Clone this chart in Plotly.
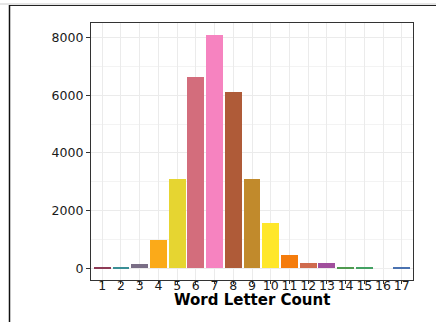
import plotly.graph_objects as go

letters = list(range(1, 18))
tick_labels = [str(i) for i in letters]
counts = [15, 40, 140, 980, 3080, 6640, 8100, 6120, 3110, 1560, 450, 175, 180, 45, 35, 8, 35]
colors = ["#8E3A55", "#3A8F96", "#7A6E86", "#FBAA19", "#E6D531", "#D36D7C", "#F683C0",
          "#AF5B38", "#C18A2C", "#FFE72A", "#F57C0C", "#CF6B4E", "#A04F9C", "#4F9A4F",
          "#43A163", "#EEEEEE", "#4A72B0"]
x_title = "Word Letter Count"

W, H = 436, 322
L, R, T, B = 91, 23, 23, 42

fig = go.Figure()
fig.add_trace(go.Bar(x=letters, y=counts, marker=dict(color=colors, line=dict(width=0)),
                     width=0.9, showlegend=False))

pw = W - L - R
ph = H - T - B
def px_x(p):
    return (p - L) / pw
def px_y(p):
    return 1 - (p - T) / ph

FONT = "DejaVu Sans, Liberation Sans, Arial, sans-serif"

fig.update_layout(
    width=W, height=H,
    margin=dict(l=L, r=R, t=T, b=B, pad=0, autoexpand=False),
    paper_bgcolor="white", plot_bgcolor="white",
    font=dict(family=FONT, color="#1a1a1a"),
    bargap=0,
    xaxis=dict(range=[0.4, 17.6], tickmode="array", tickvals=letters, ticktext=tick_labels,
               showgrid=True, gridcolor="#EBEBEB", gridwidth=1.1, automargin=False,
               ticks="outside", ticklen=3, tickcolor="#333333", tickwidth=1,
               ticklabelstandoff=-9,
               tickfont=dict(size=12.5, color="#1a1a1a"),
               showline=True, linecolor="#333333", linewidth=1.2, mirror=True, zeroline=False),
    yaxis=dict(range=[-405, 8505], tickvals=[0, 2000, 4000, 6000, 8000],
               showgrid=True, gridcolor="#EBEBEB", gridwidth=1.1, automargin=False,
               minor=dict(tickvals=[1000, 3000, 5000, 7000], showgrid=True, gridcolor="#F3F3F3", gridwidth=0.6, ticks=""),
               ticks="outside", ticklen=4, tickcolor="#333333", tickwidth=1,
               tickfont=dict(size=12.5, color="#1a1a1a"),
               showline=True, linecolor="#333333", linewidth=1.2, mirror=True, zeroline=False),
    annotations=[dict(text="<b>" + x_title + "</b>", xref="paper", yref="paper",
                      x=px_x(251.5), y=px_y(299.5), xanchor="center", yanchor="middle",
                      showarrow=False, font=dict(family=FONT, size=15, color="black"))],
    shapes=[
        dict(type="line", xref="paper", yref="paper", x0=px_x(0), x1=px_x(436), y0=px_y(4), y1=px_y(4),
             line=dict(color="#DDDDDD", width=1.5)),
        dict(type="line", xref="paper", yref="paper", x0=px_x(9), x1=px_x(436), y0=px_y(5.5), y1=px_y(5.5),
             line=dict(color="#222222", width=1.2)),
        dict(type="line", xref="paper", yref="paper", x0=px_x(9.5), x1=px_x(9.5), y0=px_y(5), y1=px_y(322),
             line=dict(color="#111111", width=1.5)),
    ],
)

fig.write_html("out.html", config={"displayModeBar": False},
               post_script="document.body.style.margin='0';document.body.style.overflow='hidden';")
